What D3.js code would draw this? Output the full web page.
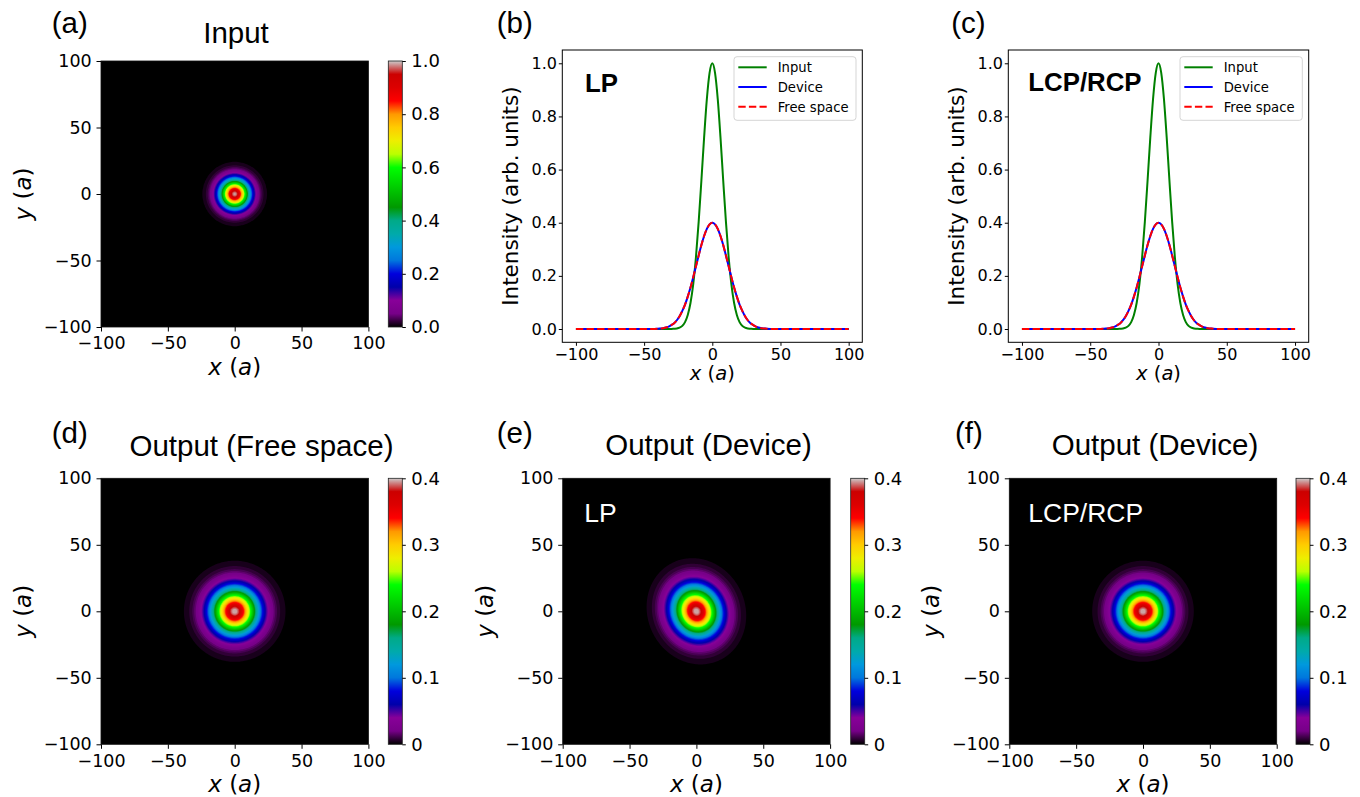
<!DOCTYPE html>
<html><head><meta charset="utf-8">
<script src="https://cdn.jsdelivr.net/npm/d3@7"></script>
<style>body{margin:0;background:#fff;} svg{display:block}</style>
</head><body>
<svg id="chart" width="1360" height="797"></svg>
<script>
// ---------------- DATA ----------------
const xSamples = [-100,-80,-60,-50,-45,
  -40,-38,-36,-34,-32,-30,-28,-26,-24,-22,-20,-18,-16,-14,-12,-10,-8,-6,-4,-2,
  0,
  2,4,6,8,10,12,14,16,18,20,22,24,26,28,30,32,34,36,38,40,
  45,50,60,80,100];
const inputProfile = [0,0,0,0,0,
  0,0,0,0,0,0.000,0.001,0.002,0.005,0.012,0.026,0.053,0.098,0.168,0.270,0.403,0.559,0.721,0.865,0.964,
  1.000,
  0.964,0.865,0.721,0.559,0.403,0.270,0.168,0.098,0.053,0.026,0.012,0.005,0.002,0.001,0.000,0,0,0,0,0,
  0,0,0,0,0];
const deviceLP = [0,0,0,0,0,
  0.001,0.002,0.003,0.006,0.009,0.015,0.022,0.033,0.048,0.068,0.092,0.122,0.156,0.195,0.236,0.277,0.316,0.350,0.377,0.394,
  0.400,
  0.394,0.377,0.350,0.316,0.277,0.236,0.195,0.156,0.122,0.092,0.068,0.048,0.033,0.022,0.015,0.009,0.006,0.003,0.002,0.001,
  0,0,0,0,0];
const freeSpaceLP = [0,0,0,0,0,
  0.001,0.002,0.003,0.006,0.009,0.015,0.022,0.033,0.048,0.068,0.092,0.122,0.156,0.195,0.236,0.277,0.316,0.350,0.377,0.394,
  0.400,
  0.394,0.377,0.350,0.316,0.277,0.236,0.195,0.156,0.122,0.092,0.068,0.048,0.033,0.022,0.015,0.009,0.006,0.003,0.002,0.001,
  0,0,0,0,0];
const deviceCP = [0,0,0,0,0,
  0.001,0.002,0.003,0.006,0.009,0.015,0.022,0.033,0.048,0.068,0.092,0.122,0.156,0.195,0.236,0.277,0.316,0.350,0.377,0.394,
  0.400,
  0.394,0.377,0.350,0.316,0.277,0.236,0.195,0.156,0.122,0.092,0.068,0.048,0.033,0.022,0.015,0.009,0.006,0.003,0.002,0.001,
  0,0,0,0,0];
const freeSpaceCP = [0,0,0,0,0,
  0.001,0.002,0.003,0.006,0.009,0.015,0.022,0.033,0.048,0.068,0.092,0.122,0.156,0.195,0.236,0.277,0.316,0.350,0.377,0.394,
  0.400,
  0.394,0.377,0.350,0.316,0.277,0.236,0.195,0.156,0.122,0.092,0.068,0.048,0.033,0.022,0.015,0.009,0.006,0.003,0.002,0.001,
  0,0,0,0,0];
// LP device spot is slightly elliptical and tilted (panel e)
const lpSpotShape = {angleDeg: 115, major: 1.07, minor: 0.96};

const axisTicks = [-100,-50,0,50,100];
const intensityTicks = [0,0.2,0.4,0.6,0.8,1.0];
const cbTicksInput = [0,0.2,0.4,0.6,0.8,1.0];
const cbTicksOutput = [0,0.1,0.2,0.3,0.4];
const legendLabels = ["Input","Device","Free space"];

// nipy_spectral colormap nodes
const nipyR = [0,0.4667,0.5333,0,0,0,0,0,0,0,0,0,0,0.7333,0.9333,1,1,1,0.8667,0.8,0.8];
const nipyG = [0,0,0,0,0,0.4667,0.6,0.6667,0.6667,0.6,0.7333,0.8667,1,1,0.9333,0.8,0.6,0,0,0,0.8];
const nipyB = [0,0.5333,0.6,0.6667,0.8667,0.8667,0.8667,0.6667,0.5333,0,0,0,0,0,0,0,0,0,0,0,0.8];

// ---------------- RENDER ----------------
const svg = d3.select("#chart");
const TICKFONT = "'DejaVu Sans', sans-serif";
const SANS = "'Liberation Sans', Arial, Helvetica, sans-serif";

const cmapStops = d3.range(21).map(i => i / 20);
const cmapColors = cmapStops.map((t, i) => d3.rgb(nipyR[i]*255, nipyG[i]*255, nipyB[i]*255).formatHex());
const cmap = d3.scaleLinear().domain(cmapStops).range(cmapColors).interpolate(d3.interpolateRgb).clamp(true);

const defs = svg.append("defs");
const grad = defs.append("linearGradient").attr("id", "nipy").attr("x1", 0).attr("y1", 1).attr("x2", 0).attr("y2", 0);
grad.selectAll("stop").data(cmapStops).join("stop")
  .attr("offset", d => d).attr("stop-color", (d, i) => cmapColors[i]);

const N = 200;
function radialField(profile, shape) {
  const idx = xSamples.map((x, i) => i).filter(i => xSamples[i] >= 0);
  const rScale = d3.scaleLinear().domain(idx.map(i => xSamples[i])).range(idx.map(i => profile[i])).clamp(true);
  const vals = new Float64Array(N * N);
  const th = shape ? shape.angleDeg * Math.PI / 180 : 0;
  const c = Math.cos(th), s = Math.sin(th);
  for (let j = 0; j < N; j++) {
    const y = 100 - (j + 0.5) * 200 / N;
    for (let i = 0; i < N; i++) {
      const x = -100 + (i + 0.5) * 200 / N;
      let r;
      if (shape) {
        const u = x * c + y * s, v = -x * s + y * c;
        r = Math.hypot(u / shape.major, v / shape.minor);
      } else r = Math.hypot(x, y);
      vals[j * N + i] = rScale(r);
    }
  }
  return vals;
}

function styleAxisText(sel, size) {
  sel.selectAll("text").attr("font-family", TICKFONT).attr("font-size", size).attr("fill", "#000");
  sel.selectAll("line").attr("stroke", "#000").attr("stroke-width", 1);
}

function axisLabel(g, x, y, rotate, size, varName) {
  const t = g.append("text").attr("font-family", TICKFONT).attr("font-size", size).attr("fill", "#000")
    .attr("text-anchor", "middle")
    .attr("transform", rotate ? `translate(${x},${y}) rotate(-90)` : `translate(${x},${y})`);
  t.append("tspan").attr("font-style", "italic").text(varName);
  t.append("tspan").text(" (");
  t.append("tspan").attr("font-style", "italic").text("a");
  t.append("tspan").text(")");
}

const fmtInt = d3.format("d");
const fmt1 = d3.format(".1f");

const heatPanels = [
  {profile: inputProfile, vmax: 1.0, cbTicks: cbTicksInput, cbFmt: d => fmt1(d),
   x0: 101, y0: 61, cbx: 388.3, title: "Input", titleX: 236, titleY: 43, label: "(a)", lx: 51.7, ly: 33},
  {profile: freeSpaceLP, vmax: 0.4, cbTicks: cbTicksOutput, cbFmt: d => d === 0 ? "0" : fmt1(d),
   x0: 101, y0: 478.3, cbx: 388.3, title: "Output (Free space)", titleX: 261.5, titleY: 455.5, label: "(d)", lx: 51.7, ly: 443},
  {profile: deviceLP, shape: lpSpotShape, vmax: 0.4, cbTicks: cbTicksOutput, cbFmt: d => d === 0 ? "0" : fmt1(d),
   x0: 562.7, y0: 478.3, cbx: 850.7, title: "Output (Device)", titleX: 708.5, titleY: 455, label: "(e)", lx: 496.7, ly: 443,
   inset: "LP", insetX: 584.3, insetY: 521.7},
  {profile: deviceCP, vmax: 0.4, cbTicks: cbTicksOutput, cbFmt: d => d === 0 ? "0" : fmt1(d),
   x0: 1009.3, y0: 478.3, cbx: 1296, title: "Output (Device)", titleX: 1155, titleY: 455, label: "(f)", lx: 955, ly: 443,
   inset: "LCP/RCP", insetX: 1028.3, insetY: 521.7}
];

function drawHeat(p) {
  const W = 267.4, H = 266, CBW = 14;
  const xs = d3.scaleLinear().domain([-100, 100]).range([p.x0, p.x0 + W]);
  const ys = d3.scaleLinear().domain([-100, 100]).range([p.y0 + H, p.y0]);
  const g = svg.append("g");
  g.append("rect").attr("x", p.x0).attr("y", p.y0).attr("width", W).attr("height", H).attr("fill", cmap(0));
  const vals = radialField(p.profile, p.shape);
  const step = p.vmax / 100;
  const thr = d3.range(step / 2, p.vmax, step);
  const cs = d3.contours().size([N, N]).thresholds(thr)(vals);
  const path = d3.geoPath(d3.geoTransform({
    point(px, py) { this.stream.point(xs(-100 + px * 200 / N), ys(100 - py * 200 / N)); }
  }));
  g.append("g").selectAll("path").data(cs).join("path")
    .attr("d", path).attr("fill", d => cmap(Math.min(1, (d.value + step / 2) / p.vmax)));
  g.append("rect").attr("x", p.x0).attr("y", p.y0).attr("width", W).attr("height", H)
    .attr("fill", "none").attr("stroke", "#111").attr("stroke-width", 0.8);

  const ax = g.append("g").attr("transform", `translate(0,${p.y0 + H})`)
    .call(d3.axisBottom(xs).tickValues(axisTicks).tickSize(4.5).tickPadding(5.5).tickFormat(fmtInt));
  ax.select(".domain").remove(); styleAxisText(ax, 17.5);
  const ay = g.append("g").attr("transform", `translate(${p.x0},0)`)
    .call(d3.axisLeft(ys).tickValues(axisTicks).tickSize(4.5).tickPadding(4.8).tickFormat(fmtInt));
  ay.select(".domain").remove(); styleAxisText(ay, 17.5);

  axisLabel(g, p.x0 + W / 2, p.y0 + H + 48, false, 23, "x");
  axisLabel(g, p.x0 - 70, p.y0 + H / 2, true, 23, "y");

  // colorbar
  const cs2 = d3.scaleLinear().domain([0, p.vmax]).range([p.y0 + H, p.y0]);
  g.append("rect").attr("x", p.cbx).attr("y", p.y0).attr("width", CBW).attr("height", H)
    .attr("fill", "url(#nipy)").attr("stroke", "#222").attr("stroke-width", 0.8);
  const ac = g.append("g").attr("transform", `translate(${p.cbx + CBW},0)`)
    .call(d3.axisRight(cs2).tickValues(p.cbTicks).tickSize(3.5).tickPadding(5.5).tickFormat(p.cbFmt));
  ac.select(".domain").remove(); styleAxisText(ac, 18);

  g.append("text").attr("x", p.titleX).attr("y", p.titleY).attr("text-anchor", "middle")
    .attr("font-family", SANS).attr("font-size", 29.5).attr("fill", "#000").text(p.title);
  g.append("text").attr("x", p.lx).attr("y", p.ly)
    .attr("font-family", SANS).attr("font-size", 29.5).attr("fill", "#000").text(p.label);
  if (p.inset) {
    g.append("text").attr("x", p.insetX).attr("y", p.insetY)
      .attr("font-family", SANS).attr("font-size", 26.5).attr("fill", "#fff").text(p.inset);
  }
}
heatPanels.forEach(drawHeat);

// ---------------- line-profile panels ----------------
const profilePanels = [
  {input: inputProfile, device: deviceLP, free: freeSpaceLP, x0: 562.3, x1: 862.3, label: "(b)", lx: 496.7,
   tag: "LP", tagX: 585, tagY: 91.7, legX: 734, legW: 122},
  {input: inputProfile, device: deviceCP, free: freeSpaceCP, x0: 1008.3, x1: 1308.7, label: "(c)", lx: 951.3,
   tag: "LCP/RCP", tagX: 1028.3, tagY: 90.7, legX: 1180, legW: 122.3}
];

function drawProfile(p) {
  const y0 = 50, y1 = 342.3;
  const xs = d3.scaleLinear().domain([-110, 110]).range([p.x0, p.x1]);
  const ys = d3.scaleLinear().domain([-0.05, 1.05]).range([y1, y0]);
  const g = svg.append("g");
  const line = d3.line().x((d, i) => xs(xSamples[i])).y(d => ys(d)).curve(d3.curveMonotoneX);
  g.append("path").datum(p.input).attr("d", line).attr("fill", "none").attr("stroke", "#008000").attr("stroke-width", 2);
  g.append("path").datum(p.device).attr("d", line).attr("fill", "none").attr("stroke", "#0000ff").attr("stroke-width", 2);
  g.append("path").datum(p.free).attr("d", line).attr("fill", "none").attr("stroke", "#ff0000").attr("stroke-width", 2)
    .attr("stroke-dasharray", "7.4,3.2");
  g.append("rect").attr("x", p.x0).attr("y", y0).attr("width", p.x1 - p.x0).attr("height", y1 - y0)
    .attr("fill", "none").attr("stroke", "#000").attr("stroke-width", 1);

  const ax = g.append("g").attr("transform", `translate(0,${y1})`)
    .call(d3.axisBottom(xs).tickValues(axisTicks).tickSize(3.5).tickPadding(2.5).tickFormat(fmtInt));
  ax.select(".domain").remove(); styleAxisText(ax, 16);
  const ay = g.append("g").attr("transform", `translate(${p.x0},0)`)
    .call(d3.axisLeft(ys).tickValues(intensityTicks).tickSize(3.5).tickPadding(1.8).tickFormat(fmt1));
  ay.select(".domain").remove(); styleAxisText(ay, 16);

  axisLabel(g, (p.x0 + p.x1) / 2, 380, false, 19.5, "x");
  g.append("text").attr("transform", `translate(${p.x0 - 44},${(y0 + y1) / 2}) rotate(-90)`)
    .attr("text-anchor", "middle").attr("font-family", TICKFONT).attr("font-size", 21.5).attr("fill", "#000")
    .text("Intensity (arb. units)");

  g.append("text").attr("x", p.lx).attr("y", 33).attr("font-family", SANS).attr("font-size", 29.5)
    .attr("fill", "#000").text(p.label);
  g.append("text").attr("x", p.tagX).attr("y", p.tagY).attr("font-family", SANS).attr("font-weight", "bold")
    .attr("font-size", 25.8).attr("fill", "#000").text(p.tag);

  // legend
  const lg = g.append("g");
  lg.append("rect").attr("x", p.legX).attr("y", 56.7).attr("width", p.legW).attr("height", 63.6)
    .attr("rx", 3).attr("fill", "#fff").attr("fill-opacity", 0.8).attr("stroke", "#d5d5d5").attr("stroke-width", 1);
  const styles = [{c: "#008000", dash: null}, {c: "#0000ff", dash: null}, {c: "#ff0000", dash: "7.4,3.2"}];
  legendLabels.forEach((lab, i) => {
    const yy = 67.3 + i * 19.7;
    lg.append("line").attr("x1", p.legX + 4.3).attr("x2", p.legX + 32.7).attr("y1", yy).attr("y2", yy)
      .attr("stroke", styles[i].c).attr("stroke-width", 2).attr("stroke-dasharray", styles[i].dash);
    lg.append("text").attr("x", p.legX + 43.7).attr("y", yy + 5).attr("font-family", TICKFONT)
      .attr("font-size", 13.2).attr("fill", "#000").text(lab);
  });
}
profilePanels.forEach(drawProfile);
</script>
</body></html>
